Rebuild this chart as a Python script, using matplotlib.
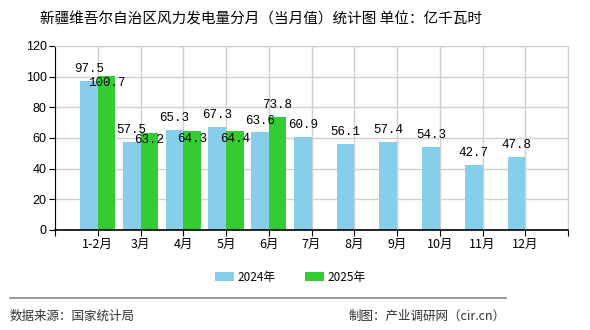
import matplotlib
matplotlib.use("Agg")
import matplotlib.pyplot as plt
import numpy as np

plt.rcParams['font.family'] = ['Noto Sans CJK SC', 'DejaVu Sans']

categories = ["1-2月", "3月", "4月", "5月", "6月", "7月", "8月", "9月", "10月", "11月", "12月"]
v2024 = [97.5, 57.5, 65.3, 67.3, 63.6, 60.9, 56.1, 57.4, 54.3, 42.7, 47.8]
v2025 = [100.7, 63.2, 64.3, 64.4, 73.8]
series_names = ["2024年", "2025年"]
yticks = [0, 20, 40, 60, 80, 100, 120]

c24 = "#87CEEB"
c25 = "#33CC33"

fig = plt.figure(figsize=(5.9, 3.3), dpi=100)
ax = fig.add_axes([55/590, 1-230/330, (568-55)/590, (230-46)/330])

x = np.arange(len(categories))
w = 0.41
b1 = ax.bar(x - w/2, v2024, width=w, color=c24, label=series_names[0], zorder=2)
x25 = x[:len(v2025)]
b2 = ax.bar(x25 + w/2, v2025, width=w, color=c25, label=series_names[1], zorder=2)

lab_font = dict(family=['Liberation Mono', 'DejaVu Sans Mono'], fontsize=9, color='black')
for xi, v in zip(x, v2024):
    ax.annotate(f"{v}", (xi - w/2, v), xytext=(0, 4), textcoords='offset points',
                ha='center', va='bottom', zorder=4, **lab_font)
for i, (xi, v) in enumerate(zip(x25, v2025)):
    if abs(v - v2024[i]) < 8:
        off, va = (-1, 'top')
    else:
        off, va = (4, 'bottom')
    ax.annotate(f"{v}", (xi + w/2, v), xytext=(0, off), textcoords='offset points',
                ha='center', va=va, zorder=4, **lab_font)

ax.set_xlim(-1, len(categories))
ax.set_ylim(0, 120)
ax.set_yticks(yticks)
ax.set_yticklabels([str(t) for t in yticks], fontsize=9, family=['Liberation Sans', 'DejaVu Sans'])
ax.set_xticks(np.arange(-1, len(categories) + 1))
ax.set_xticklabels([""] + categories + [""], fontsize=9)
ax.grid(True, color="#d0d0d0", linewidth=1, zorder=0)
ax.set_axisbelow(True)
for s in ['top', 'right']:
    ax.spines[s].set_color('#d0d0d0')
ax.spines['left'].set_color('black')
ax.spines['bottom'].set_color('black')
ax.spines['bottom'].set_linewidth(1.2)
ax.tick_params(axis='both', length=4, color='black', pad=2)

fig.text(261/590, 1-19/330, "新疆维吾尔自治区风力发电量分月（当月值）统计图 单位：亿千瓦时",
         ha='center', va='center', fontsize=10.5)

leg = fig.legend(handles=[b1, b2], labels=series_names, loc='center', bbox_to_anchor=(290/590, 1-277/330),
                 ncol=2, frameon=False, fontsize=8.5, handlelength=1.6, handleheight=0.7,
                 columnspacing=2.5, handletextpad=0.3)

fig.add_artist(plt.Line2D([10/590, 506/590], [1-298/330, 1-298/330], color='#888888', linewidth=1.2,
                          transform=fig.transFigure))
fig.text(10/590, 1-316/330, "数据来源：国家统计局", ha='left', va='center', fontsize=9, color='#333333')
fig.text(506/590, 1-316/330, "制图：产业调研网（cir.cn）", ha='right', va='center', fontsize=9, color='#333333')

fig.savefig("out.png", dpi=100)
